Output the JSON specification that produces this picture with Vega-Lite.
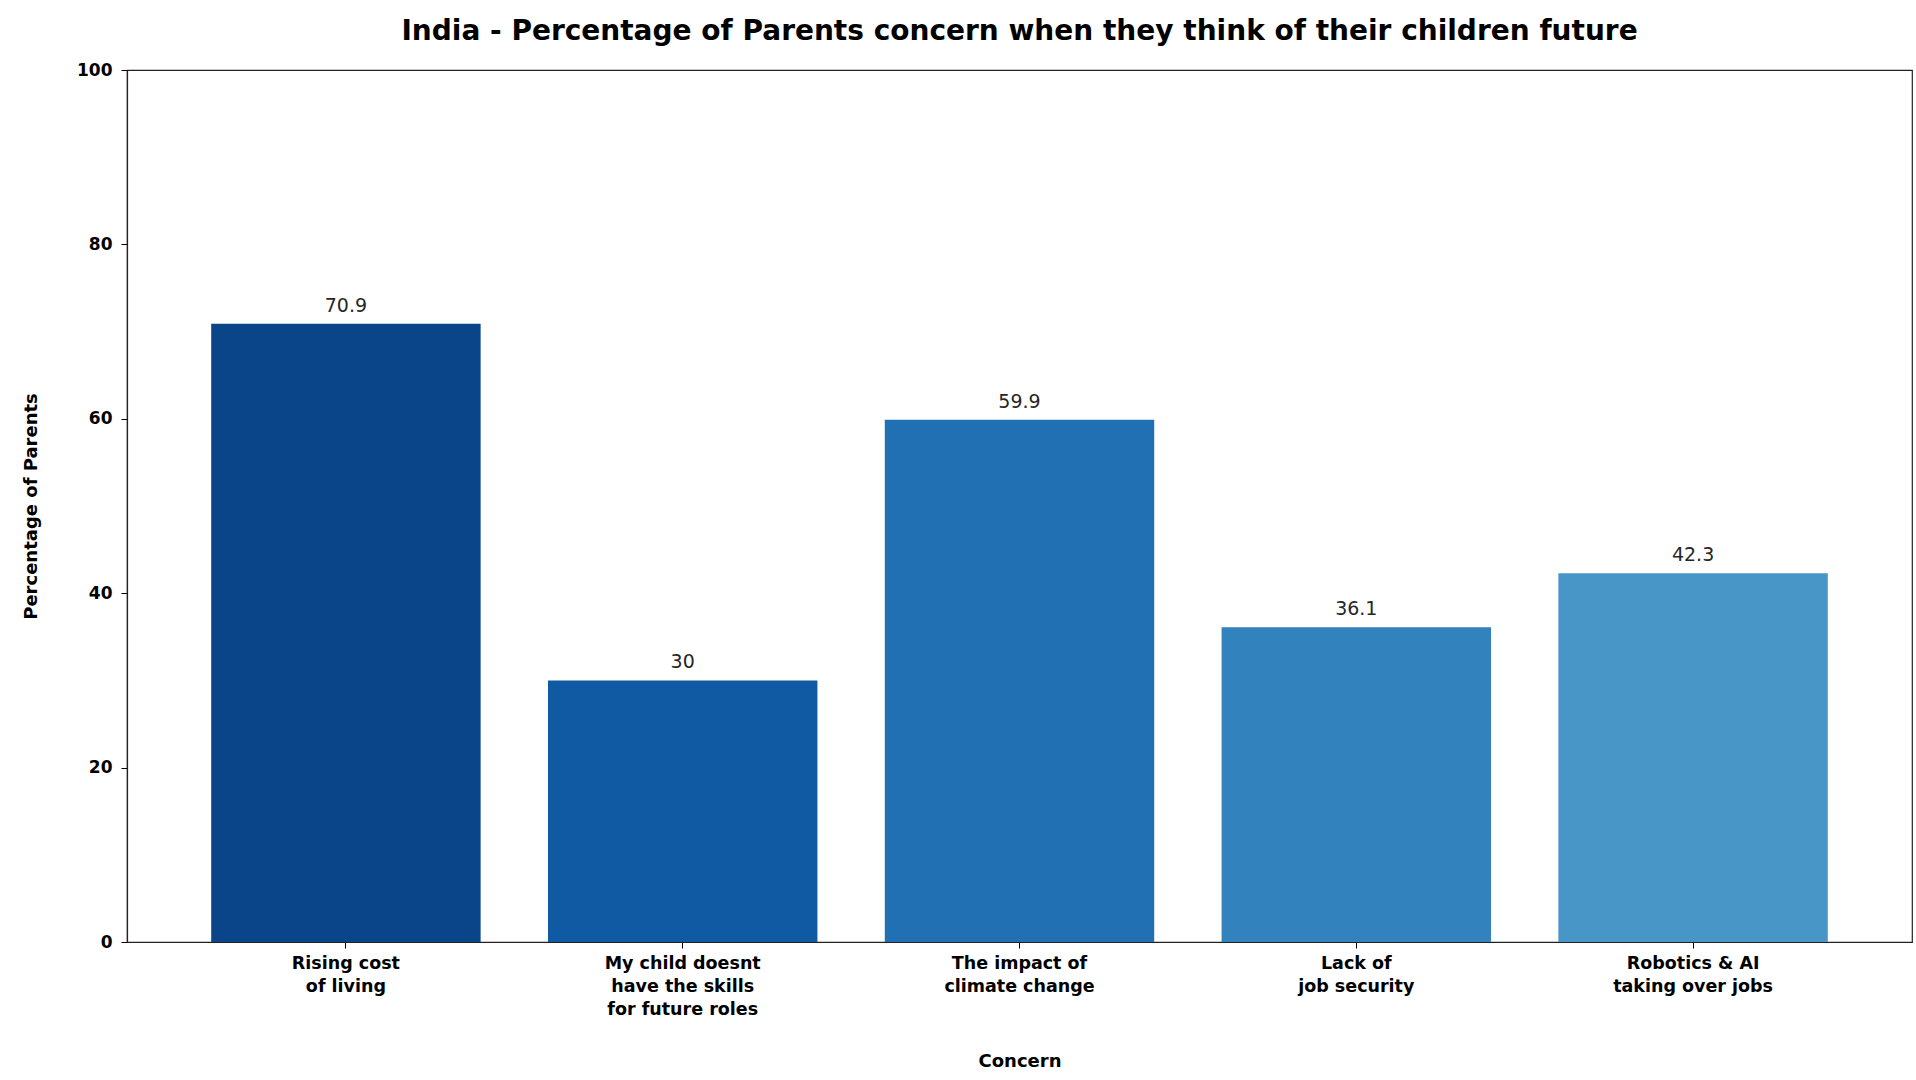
{
  "$schema": "https://vega.github.io/schema/vega-lite/v6.json",
  "width": 1785,
  "height": 872,
  "autosize": {"type": "none"},
  "padding": {"left": 127, "top": 70, "right": 4, "bottom": 138},
  "background": "white",
  "config": {
    "view": {"stroke": "#222222", "strokeWidth": 1.2},
    "font": "DejaVu Sans"
  },
  "title": {
    "text": "India - Percentage of Parents concern when they think of their children future",
    "font": "DejaVu Sans",
    "fontSize": 28,
    "fontWeight": "bold",
    "color": "#000000",
    "anchor": "middle",
    "frame": "group",
    "offset": 15
  },
  "data": {
    "values": [
      {"concern": "Rising cost\nof living", "pct": 70.9},
      {"concern": "My child doesnt\nhave the skills\nfor future roles", "pct": 30},
      {"concern": "The impact of\nclimate change", "pct": 59.9},
      {"concern": "Lack of\njob security", "pct": 36.1},
      {"concern": "Robotics & AI\ntaking over jobs", "pct": 42.3}
    ]
  },
  "encoding": {
    "x": {
      "field": "concern",
      "type": "nominal",
      "sort": null,
      "scale": {"paddingInner": 0.2, "paddingOuter": 0.25},
      "axis": {
        "title": "Concern",
        "titleFont": "DejaVu Sans",
        "titleFontSize": 18,
        "titleFontWeight": "bold",
        "titleColor": "#000000",
        "titlePadding": 35,
        "labelExpr": "split(datum.label, '\\n')",
        "labelAngle": 0,
        "labelFont": "DejaVu Sans",
        "labelFontSize": 17.5,
        "labelFontWeight": "bold",
        "labelColor": "#000000",
        "labelLineHeight": 23,
        "labelPadding": 6,
        "labelBaseline": "top",
        "tickColor": "#000000",
        "tickSize": 6,
        "domainColor": "#222222",
        "domainWidth": 1.2,
        "grid": false
      }
    },
    "y": {
      "field": "pct",
      "type": "quantitative",
      "scale": {"domain": [0, 100], "nice": false},
      "axis": {
        "title": "Percentage of Parents",
        "titleFont": "DejaVu Sans",
        "titleFontSize": 18,
        "titleFontWeight": "bold",
        "titleColor": "#000000",
        "titlePadding": 36,
        "values": [0, 20, 40, 60, 80, 100],
        "labelFont": "DejaVu Sans",
        "labelFontSize": 17,
        "labelFontWeight": "bold",
        "labelColor": "#000000",
        "labelPadding": 9,
        "tickColor": "#000000",
        "tickSize": 6,
        "domainColor": "#222222",
        "domainWidth": 1.2,
        "grid": false
      }
    }
  },
  "layer": [
    {
      "mark": {"type": "bar"},
      "encoding": {
        "color": {
          "field": "concern",
          "type": "nominal",
          "sort": null,
          "scale": {
            "domain": ["Rising cost\nof living", "My child doesnt\nhave the skills\nfor future roles", "The impact of\nclimate change", "Lack of\njob security", "Robotics & AI\ntaking over jobs"],
            "range": ["#0b4589", "#1059a3", "#2170b4", "#3282be", "#4896c8"]
          },
          "legend": null
        }
      }
    },
    {
      "mark": {"type": "text", "baseline": "alphabetic", "dy": -12, "fontSize": 19, "font": "DejaVu Sans", "color": "#262626"},
      "encoding": {
        "text": {"field": "pct", "type": "quantitative", "format": ".1~f"}
      }
    }
  ]
}
